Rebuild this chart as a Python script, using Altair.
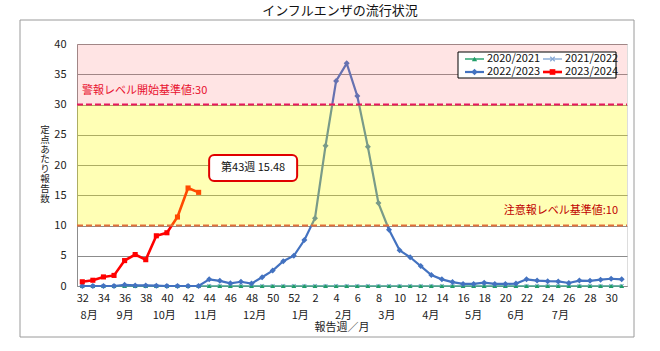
import json
import altair as alt
import pandas as pd

# ---------------- data ----------------
weeks = [32, 33, 34, 35, 36, 37, 38, 39, 40, 41, 42, 43, 44, 45, 46, 47, 48, 49, 50, 51, 52,
         1, 2, 3, 4, 5, 6, 7, 8, 9, 10, 11, 12, 13, 14, 15, 16, 17, 18, 19, 20,
         21, 22, 23, 24, 25, 26, 27, 28, 29, 30, 31]

series_names = ["2020/2021", "2021/2022", "2022/2023", "2023/2024"]

s2020 = [0.0, 0.0, 0.0, 0.0, 0.0, 0.0, 0.0, 0.0, 0.0, 0.0, 0.0, 0.0, 0.0, 0.0, 0.0, 0.0, 0.0,
         0.0, 0.0, 0.0, 0.0, 0.0, 0.0, 0.0, 0.0, 0.0, 0.0, 0.0, 0.0, 0.0, 0.0, 0.0, 0.0, 0.0,
         0.0, 0.0, 0.0, 0.0, 0.0, 0.0, 0.0, 0.0, 0.0, 0.0, 0.0, 0.0, 0.0, 0.0, 0.0, 0.0, 0.0, 0.0]
s2021 = [0.0, 0.0, 0.0, 0.0, 0.0, 0.0, 0.0, 0.0, 0.0, 0.0, 0.0, 0.0, 0.0, 0.0, 0.0, 0.0, 0.0,
         0.0, 0.0, 0.0, 0.0, 0.0, 0.0, 0.0, 0.0, 0.0, 0.0, 0.0, 0.0, 0.0, 0.0, 0.0, 0.0, 0.0,
         0.0, 0.0, 0.0, 0.0, 0.0, 0.0, 0.0, 0.0, 0.0, 0.0, 0.0, 0.0, 0.0, 0.0, 0.0, 0.0, 0.0, 0.0]
s2022 = [0.0, 0.0, 0.0, 0.0, 0.2, 0.1, 0.1, 0.05, 0.0, 0.0, 0.0, 0.0,
         1.1, 0.85, 0.45, 0.7, 0.4, 1.45, 2.55, 4.1, 5.0,
         7.6, 11.2, 23.2, 33.9, 36.8, 31.4, 23.0, 13.7, 9.3, 5.9,
         4.75, 3.3, 1.8, 1.1, 0.65, 0.35, 0.35, 0.55, 0.35, 0.35,
         0.4, 1.1, 0.9, 0.8, 0.75, 0.5, 0.9, 0.85, 1.05, 1.2, 1.1]
s2023 = [0.7, 0.95, 1.5, 1.75, 4.2, 5.2, 4.35, 8.3, 8.8, 11.4, 16.2, 15.48]

month_labels = ["8月", "9月", "10月", "11月", "12月", "1月", "2月", "3月", "4月", "5月", "6月", "7月"]
month_at = [0.65, 4.05, 7.75, 11.65, 16.3, 20.6, 24.7, 28.8, 32.95, 37.0, 41.0, 45.2]  # in week-index units

thresholds = [30, 10]
threshold_texts = ["警報レベル開始基準値:30", "注意報レベル基準値:10"]
band_lo = [10, 30]
band_hi = [30, 40]

callout_week = 43
callout_value = 15.48
callout_text = "第43週  15.48"

# ---------------- tables ----------------
rows = []
for name, vals in zip(series_names, [s2020, s2021, s2022, s2023]):
    for i, v in enumerate(vals):
        rows.append({"idx": i, "week": weeks[i], "series": name, "value": v})
df = pd.DataFrame(rows)

months_df = pd.DataFrame({"pos": month_at, "label": month_labels})
bands_df = pd.DataFrame({"lo": band_lo, "hi": band_hi})
thr_df = pd.DataFrame({"v": thresholds, "label": threshold_texts})
callout_df = pd.DataFrame({"idx": [weeks.index(callout_week)], "value": [callout_value],
                           "label": [callout_text]})
one = pd.DataFrame({"a": [0]})

W, H = 550, 242
FONT = "Noto Sans CJK JP"

tick_idx = [i for i, w in enumerate(weeks) if w % 2 == 0]
label_expr = f"{json.dumps([str(w) for w in weeks])}[datum.value]"

x_scale = alt.Scale(domain=[-0.5, len(weeks) - 0.5], nice=False, zero=False)
y_scale = alt.Scale(domain=[0, 40], nice=False)
x_axis = alt.Axis(values=tick_idx, labelExpr=label_expr, grid=False, ticks=False,
                  labelPadding=6, title=None, labelFontSize=11, labelFont=FONT,
                  labelColor="#222", domainColor="#8c8c8c")
y_axis = alt.Axis(values=[0, 5, 10, 15, 20, 25, 30, 35, 40], grid=True, ticks=False,
                  labelPadding=11, title=None, labelFontSize=11, labelFont=FONT,
                  labelColor="#222", domainColor="#8c8c8c", gridColor="#8c8c8c")


def X(field):
    return alt.X(field, scale=x_scale, axis=x_axis)


def Y(field):
    return alt.Y(field, scale=y_scale, axis=y_axis)


XMARK = "M-1,-1L1,1M-1,1L1,-1"
colors = ["#1F9E68", "#86A9D6", "#4372C0", "#FF0000"]
line_w = [1.0, 1.2, 2.2, 2.6]
shapes = ["triangle-up", XMARK, "diamond", "square"]
sizes = [22, 14, 36, 26]
filled = [True, False, True, True]


def series_layer(k):
    name = series_names[k]
    return alt.Chart(df).transform_filter(alt.datum.series == name).mark_line(
        color=colors[k], strokeWidth=line_w[k],
        point=alt.OverlayMarkDef(shape=shapes[k], size=sizes[k], filled=filled[k], color=colors[k],
                                 strokeWidth=1.2, opacity=1),
    ).encode(x=X("idx:Q"), y=Y("value:Q"))


draw_order = [1, 0, 2, 3]
series_layers = [series_layer(k) for k in draw_order]

# translucent bands drawn over the lines (tints them like the original)
yellow = alt.Chart(bands_df.iloc[[0]]).mark_rect(color="#FFFF00", opacity=0.29).encode(
    x=alt.value(0), x2=alt.value(W), y=Y("lo:Q"), y2="hi:Q")
pink = alt.Chart(bands_df.iloc[[1]]).mark_rect(color="#FF7070", opacity=0.19).encode(
    x=alt.value(0), x2=alt.value(W), y=Y("lo:Q"), y2="hi:Q")

rule30 = alt.Chart(thr_df.iloc[[0]]).mark_rule(color="#E8175D", strokeWidth=2, strokeDash=[6, 3]).encode(
    y=Y("v:Q"), x=alt.value(0), x2=alt.value(W))
rule10 = alt.Chart(thr_df.iloc[[1]]).mark_rule(color="#E0703A", strokeWidth=2, strokeDash=[6, 3]).encode(
    y=Y("v:Q"), x=alt.value(0), x2=alt.value(W))

txt30 = alt.Chart(thr_df.iloc[[0]]).mark_text(align="left", baseline="middle", dy=-13.5,
                                              font=FONT, fontSize=11, color="#E8102E").encode(
    y=Y("v:Q"), x=alt.value(5), text="label:N")
txt10 = alt.Chart(thr_df.iloc[[1]]).mark_text(align="right", baseline="middle", dy=-14.5,
                                              font=FONT, fontSize=11, color="#C00000").encode(
    y=Y("v:Q"), x=alt.value(541), text="label:N")

# callout box
RR = ("M-0.886,-0.295H0.886A0.114,0.114 0 0 1 1,-0.181V0.181A0.114,0.114 0 0 1 0.886,0.295"
      "H-0.886A0.114,0.114 0 0 1 -1,0.181V-0.181A0.114,0.114 0 0 1 -0.886,-0.295Z")
box = alt.Chart(callout_df).mark_point(shape=RR, size=88 * 88, filled=False, fill="white",
                                       fillOpacity=1, stroke="#E00000", strokeWidth=2,
                                       opacity=1, xOffset=54.5, yOffset=-24.3).encode(
    x=X("idx:Q"), y=Y("value:Q"))
box_txt = alt.Chart(callout_df).mark_text(font=FONT, fontSize=11, color="#111", dx=54.5, dy=-24.3,
                                          baseline="middle").encode(
    x=X("idx:Q"), y=Y("value:Q"), text="label:N")

months = alt.Chart(months_df).mark_text(font=FONT, fontSize=11, color="#222", baseline="middle").encode(
    x=X("pos:Q"), y=alt.value(271.5), text="label:N")

xtitle = alt.Chart(one).mark_text(text="報告週／月", font=FONT, fontSize=11, color="#222",
                                  baseline="middle").encode(x=alt.value(265), y=alt.value(284))
ytitle = alt.Chart(one).mark_text(text=list("定点あたり報告数"), font=FONT, fontSize=9.5,
                                  lineHeight=9.8, color="#222", baseline="top").encode(
    x=alt.value(-32), y=alt.value(81))

frame = alt.Chart(one).mark_rect(fill="white", fillOpacity=0, stroke="#9a9a9a", strokeWidth=1).encode(
    x=alt.value(-57), x2=alt.value(557), y=alt.value(-24), y2=alt.value(293))

# hand-drawn legend box (line + marker + label per entry, 2 columns)
legend_box = alt.Chart(one).mark_rect(fill="white", stroke="#000", strokeWidth=1).encode(
    x=alt.value(381), x2=alt.value(539), y=alt.value(8), y2=alt.value(34))
legend_layers = [legend_box]
col_x = [388, 466]
row_y = [15, 28]
for k, name in enumerate(series_names):
    sx = col_x[k % 2]
    ry = row_y[k // 2]
    legend_layers.append(alt.Chart(one).mark_rule(color=colors[k], strokeWidth=max(line_w[k], 1.4)).encode(
        x=alt.value(sx), x2=alt.value(sx + 19), y=alt.value(ry)))
    legend_layers.append(alt.Chart(one).mark_point(shape=shapes[k], size=sizes[k] + 6, filled=filled[k],
                                                   color=colors[k], opacity=1, strokeWidth=1.2).encode(
        x=alt.value(sx + 9.5), y=alt.value(ry)))
    legend_layers.append(alt.Chart(one).mark_text(text=name, align="left", baseline="middle", font=FONT,
                                                  fontSize=11, color="#111").encode(
        x=alt.value(sx + 22), y=alt.value(ry)))

chart = alt.layer(
    frame, *series_layers, yellow, pink, rule30, rule10, txt30, txt10,
    box, box_txt, months, xtitle, ytitle, *legend_layers,
).properties(
    width=W, height=H,
    title=alt.TitleParams("インフルエンザの流行状況", font=FONT, fontSize=13, fontWeight="normal",
                          color="#111", anchor="middle", dx=-12, offset=2),
    autosize=alt.AutoSizeParams(type="none"),
    padding={"left": 77, "top": 44, "right": 33, "bottom": 65},
).configure_view(stroke="#8c8c8c").configure(background="white")

chart.save("out.html", embed_options={"renderer": "svg", "actions": False})
